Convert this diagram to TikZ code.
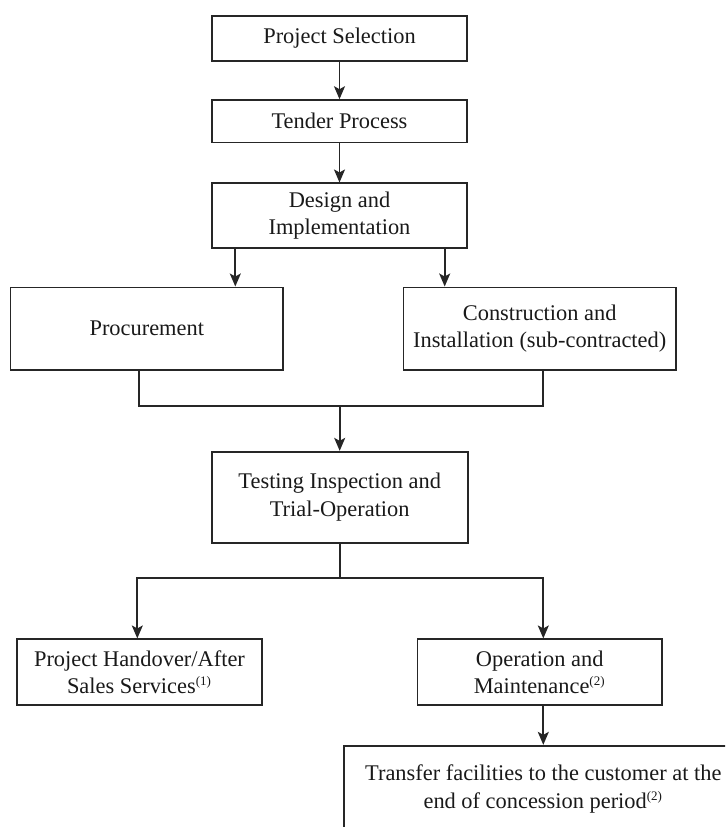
\documentclass[tikz,border=0pt]{standalone}
\usepackage{fontspec}
\setmainfont{Liberation Serif}
\usetikzlibrary{arrows.meta}
\newcommand{\smallsup}[1]{\textsuperscript{\fontsize{6.5pt}{6.5pt}\selectfont #1}}
\begin{document}
\begin{tikzpicture}[x=0.5pt,y=-0.5pt,
  box/.style={draw=black!85, line width=0.85pt, inner sep=0pt, align=center, text=black!90,
    font=\fontsize{11.2pt}{13.7pt}\selectfont},
  link/.style={draw=black!85, line width=0.85pt},
  arr/.style={link, -{Stealth[length=6.5pt,width=5.5pt,inset=1.5pt]}}]
\useasboundingbox (0,0) rectangle (725,827);
\clip (0,0) rectangle (725,827);
\node[box, minimum width=127.8pt, minimum height=22.65pt] (ps) at (339.5,38.3) {Project Selection};
\node[box, minimum width=127.8pt, minimum height=21.15pt] (tp) at (339.5,121.2) {Tender Process};
\node[box, minimum width=127.8pt, minimum height=32.2pt] (di) at (339.5,215.5) {Design and\\Implementation};
\node[box, minimum width=136.15pt, minimum height=41.35pt] (proc) at (146.8,328.7) {Procurement};
\node[box, minimum width=136.35pt, minimum height=41.35pt] (cons) at (539.7,328.7) {Construction and\\Installation (sub-contracted)};
\node[box, minimum width=128pt, minimum height=45.5pt] (test) at (339.7,497.2) {Testing Inspection and\\Trial-Operation};
\node[box, minimum width=122.8pt, minimum height=33pt] (ph) at (139.5,672.3) {Project Handover/After\\Sales Services\smallsup{(1)}};
\node[box, minimum width=122.35pt, minimum height=33pt] (om) at (539.7,672.3) {Operation and\\Maintenance\smallsup{(2)}};
\node[box, minimum width=199pt, minimum height=43.3pt] (tr) at (543.3,789) {Transfer facilities to the customer at the\\end of concession period\smallsup{(2)}};

\draw[arr] (ps) -- (tp);
\draw[arr] (tp) -- (di);
\coordinate (xl) at (235.3,0);
\coordinate (xr) at (444.7,0);
\draw[arr] (di.south -| xl) -- (proc.north -| xl);
\draw[arr] (di.south -| xr) -- (cons.north -| xr);
\coordinate (jl) at (139.3,405.7);
\coordinate (jr) at (543.3,405.7);
\draw[link] (proc.south -| jl) -- (jl) -- (jr) -- (cons.south -| jr);
\draw[arr] (jl -| test.north) -- (test.north);
\coordinate (kl) at (137.3,577.7);
\coordinate (kr) at (543.3,577.7);
\draw[link] (test.south) -- (test.south |- kl);
\draw[arr] (test.south |- kl) -- (kl) -- (ph.north -| kl);
\draw[arr] (test.south |- kl) -- (kr) -- (om.north -| kr);
\draw[arr] (om.south -| kr) -- (tr.north -| kr);
\end{tikzpicture}
\end{document}
